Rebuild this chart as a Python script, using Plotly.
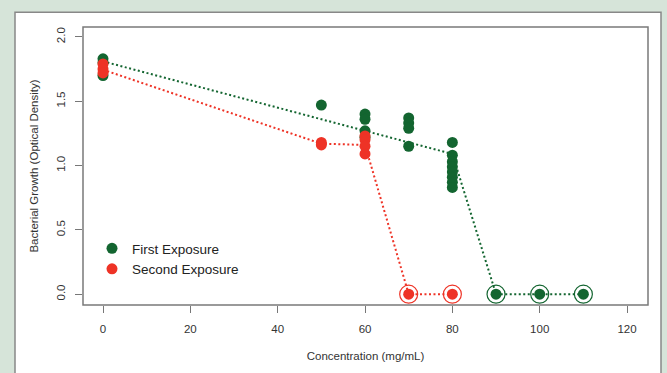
import plotly.graph_objects as go

# ---- data ----
first_x = [0, 0, 0, 50, 60, 60, 60, 60, 70, 70, 70, 70,
           80, 80, 80, 80, 80, 80, 80, 80, 90, 100, 110]
first_y = [1.83, 1.80, 1.70, 1.47, 1.40, 1.36, 1.27, 1.22, 1.37, 1.33, 1.29, 1.15,
           1.18, 1.08, 1.03, 0.99, 0.95, 0.91, 0.87, 0.83, 0.0, 0.0, 0.0]
second_x = [0, 0, 0, 50, 50, 60, 60, 60, 60, 70, 80]
second_y = [1.79, 1.75, 1.72, 1.18, 1.16, 1.23, 1.20, 1.15, 1.09, 0.0, 0.0]

first_line_x = [0, 60, 70, 80, 90, 100, 110]
first_line_y = [1.81, 1.27, 1.18, 1.09, 0.0, 0.0, 0.0]
second_line_x = [0, 50, 60, 70, 80]
second_line_y = [1.745, 1.17, 1.16, 0.0, 0.0]

first_zero_x = [90, 100, 110]
first_zero_y = [0.0, 0.0, 0.0]
second_zero_x = [70, 80]
second_zero_y = [0.0, 0.0]

x_ticks = [0, 20, 40, 60, 80, 100, 120]
y_ticks = [0.0, 0.5, 1.0, 1.5, 2.0]
y_tick_text = ["0.0", "0.5", "1.0", "1.5", "2.0"]

GREEN = "#136530"
RED = "#ee3326"
FONT = "Liberation Sans, Arial, sans-serif"

fig = go.Figure()

fig.add_trace(go.Scatter(x=first_line_x, y=first_line_y, mode="lines",
                         line=dict(color=GREEN, width=2, dash="2px,2.5px"),
                         showlegend=False, hoverinfo="skip"))
fig.add_trace(go.Scatter(x=second_line_x, y=second_line_y, mode="lines",
                         line=dict(color=RED, width=2, dash="2px,2.5px"),
                         showlegend=False, hoverinfo="skip"))
fig.add_trace(go.Scatter(x=first_zero_x, y=first_zero_y, mode="markers",
                         marker=dict(symbol="circle-open", size=18, color=GREEN,
                                     line=dict(color=GREEN, width=1.2)),
                         showlegend=False, hoverinfo="skip"))
fig.add_trace(go.Scatter(x=second_zero_x, y=second_zero_y, mode="markers",
                         marker=dict(symbol="circle-open", size=18, color=RED,
                                     line=dict(color=RED, width=1.2)),
                         showlegend=False, hoverinfo="skip"))
fig.add_trace(go.Scatter(x=first_x, y=first_y, mode="markers", name="First Exposure",
                         marker=dict(color=GREEN, size=11, line=dict(width=0))))
fig.add_trace(go.Scatter(x=second_x, y=second_y, mode="markers", name="Second Exposure",
                         marker=dict(color=RED, size=11, line=dict(width=0))))

W, H = 667, 373
L, R, T, B = 83, 19, 27, 64
pw, ph = W - L - R, H - T - B


def px(x):
    return (x - L) / pw


def py(y):
    return (H - B - y) / ph


fig.update_layout(
    width=W, height=H,
    margin=dict(l=L, r=R, t=T, b=B),
    paper_bgcolor="#d6e4d9",
    plot_bgcolor="rgba(0,0,0,0)",
    font=dict(family=FONT, color="#333333", size=11),
    showlegend=True,
    legend=dict(x=px(92), y=py(236), xanchor="left", yanchor="top",
                bgcolor="rgba(0,0,0,0)", font=dict(size=13.5, color="#222222"),
                tracegroupgap=0, itemwidth=30),
    shapes=[
        dict(type="rect", xref="paper", yref="paper",
             x0=px(15), x1=px(661), y0=py(400), y1=py(12),
             fillcolor="white", line=dict(color="#888888", width=1.5), layer="below"),
        dict(type="rect", xref="paper", yref="paper",
             x0=0, x1=1, y0=0, y1=1,
             fillcolor="rgba(0,0,0,0)", line=dict(color="#7a7a7a", width=1.5), layer="above"),
    ],
)

fig.update_xaxes(range=[-4.58, 124.8], tickvals=x_ticks, ticks="outside", ticklen=7,
                 tickcolor="#777777", tickwidth=1.2, showgrid=False, zeroline=False,
                 showline=False, ticklabelstandoff=6,
                 tickfont=dict(size=11.5, color="#333333"),
                 title=dict(text="Concentration (mg/mL)", standoff=18,
                            font=dict(size=11.5, color="#333333")))
fig.update_yaxes(range=[-0.084, 2.077], tickvals=y_ticks, ticktext=y_tick_text,
                 ticks="outside", ticklen=7, tickcolor="#777777", tickwidth=1.2,
                 showgrid=False, zeroline=False, showline=False, tickangle=-90,
                 ticklabelstandoff=5,
                 tickfont=dict(size=11.5, color="#333333"),
                 title=dict(text="Bacterial Growth (Optical Density)", standoff=14,
                            font=dict(size=11.5, color="#333333")))

fig.write_html("out.html")
